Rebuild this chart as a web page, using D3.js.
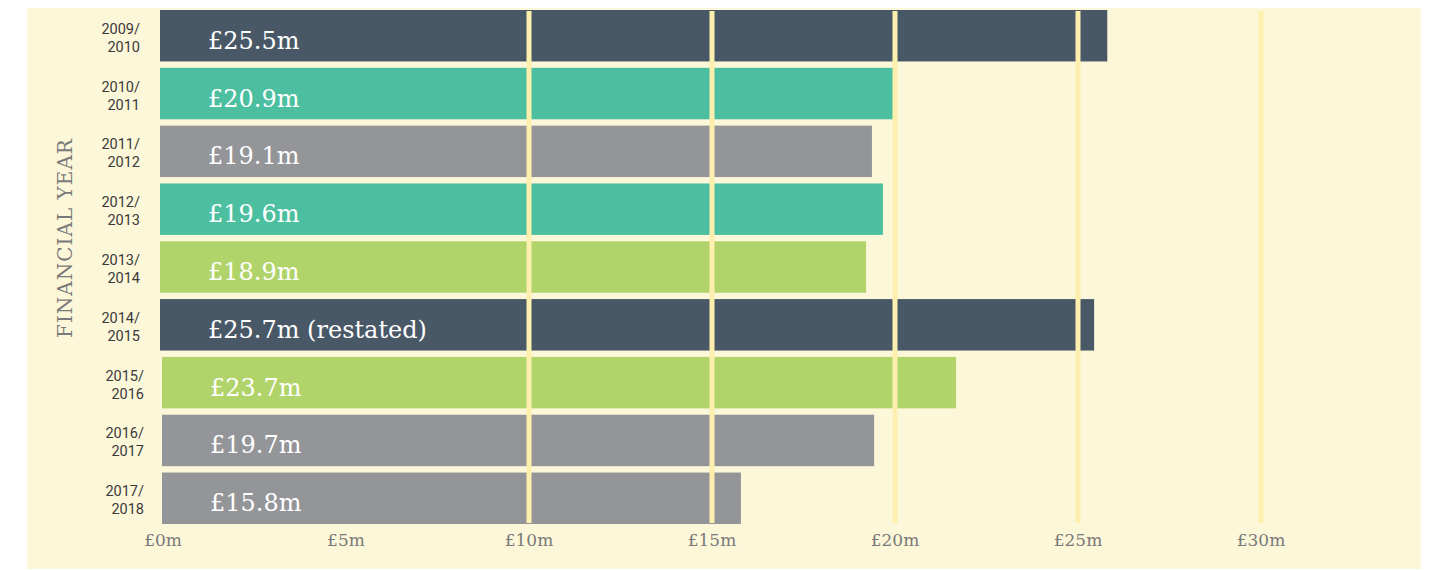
<!DOCTYPE html>
<html>
<head>
<meta charset="utf-8">
<script src="https://cdn.jsdelivr.net/npm/d3@7"></script>
<style>
  body { margin: 0; background: #ffffff; }
  .tick-label { font-family: 'DejaVu Serif', serif; fill: #7a7a7a; font-size: 17px; }
  .year-label { font-family: Roboto, sans-serif; fill: #3a3a3a; font-size: 14.5px; }
  .value-label { font-family: 'DejaVu Serif', serif; fill: #ffffff; font-size: 24px; }
  .axis-title { font-family: 'DejaVu Serif', serif; fill: #7a7a7a; font-size: 20px; letter-spacing: 1px; }
</style>
</head>
<body>
<svg width="1433" height="570"></svg>
<script>
const years = ['2009/2010', '2010/2011', '2011/2012', '2012/2013', '2013/2014',
  '2014/2015', '2015/2016', '2016/2017', '2017/2018'];
// bar lengths as drawn in the picture (they don't always agree with the labels)
const barValues = [25.8, 19.97, 19.37, 19.67, 19.21, 25.44, 21.67, 19.43, 15.79];
const valueLabels = ['£25.5m', '£20.9m', '£19.1m', '£19.6m', '£18.9m',
  '£25.7m (restated)', '£23.7m', '£19.7m', '£15.8m'];
const barColors = ['#495867', '#4dbfa1', '#939598', '#4dbfa1', '#b1d46a',
  '#495867', '#b1d46a', '#939598', '#939598'];
const ticks = [0, 5, 10, 15, 20, 25, 30];
const yAxisLabel = 'FINANCIAL YEAR';

const svg = d3.select('svg');
const width = +svg.attr('width');
const height = +svg.attr('height');

const margin = {top: 10, right: 100, bottom: 46, left: 160};

// cream panel
svg.append('rect')
  .attr('x', 27).attr('y', 8)
  .attr('width', 1394).attr('height', 561)
  .attr('fill', '#fdf7d9');

const xScale = d3.scaleLinear()
  .domain([0, 5])
  .range([3, 186]);

const yScale = d3.scaleBand()
  .domain(years)
  .range([0, 514])
  .paddingInner(0.11)
  .paddingOuter(0);

const g = svg.append('g')
  .attr('transform', `translate(${margin.left},${margin.top})`);

const shift = i => i >= 6 ? 2 : 0;

g.selectAll('rect.bar').data(years)
  .enter().append('rect')
  .attr('class', 'bar')
  .attr('x', (d, i) => shift(i))
  .attr('y', d => yScale(d))
  .attr('width', (d, i) => xScale(barValues[i]) - shift(i))
  .attr('height', yScale.bandwidth())
  .attr('fill', (d, i) => barColors[i]);

// gridlines sit on top of the bars
g.selectAll('line.grid').data(ticks.filter(t => t >= 10))
  .enter().append('line')
  .attr('class', 'grid')
  .attr('x1', d => xScale(d)).attr('x2', d => xScale(d))
  .attr('y1', 1).attr('y2', 513)
  .attr('stroke', '#fdf0ae')
  .attr('stroke-width', 5);

g.selectAll('text.value-label').data(years)
  .enter().append('text')
  .attr('class', 'value-label')
  .attr('x', (d, i) => 48 + shift(i))
  .attr('y', d => yScale(d) + yScale.bandwidth() / 2 + 13)
  .text((d, i) => valueLabels[i]);

g.selectAll('text.year-top').data(years)
  .enter().append('text')
  .attr('class', 'year-label year-top')
  .attr('text-anchor', 'end')
  .attr('x', (d, i) => -20 + shift(i) * 2)
  .attr('y', d => yScale(d) + yScale.bandwidth() / 2 - 2)
  .text(d => d.split('/')[0] + '/');

g.selectAll('text.year-bottom').data(years)
  .enter().append('text')
  .attr('class', 'year-label year-bottom')
  .attr('text-anchor', 'end')
  .attr('x', (d, i) => -20 + shift(i) * 2)
  .attr('y', d => yScale(d) + yScale.bandwidth() / 2 + 16)
  .text(d => d.split('/')[1]);

g.selectAll('text.tick-label').data(ticks)
  .enter().append('text')
  .attr('class', 'tick-label')
  .attr('text-anchor', 'middle')
  .attr('x', d => xScale(d))
  .attr('y', 536)
  .text(d => `£${d}m`);

svg.append('text')
  .attr('class', 'axis-title')
  .attr('transform', `translate(72, 238) rotate(-90)`)
  .attr('text-anchor', 'middle')
  .text(yAxisLabel);
</script>
</body>
</html>
